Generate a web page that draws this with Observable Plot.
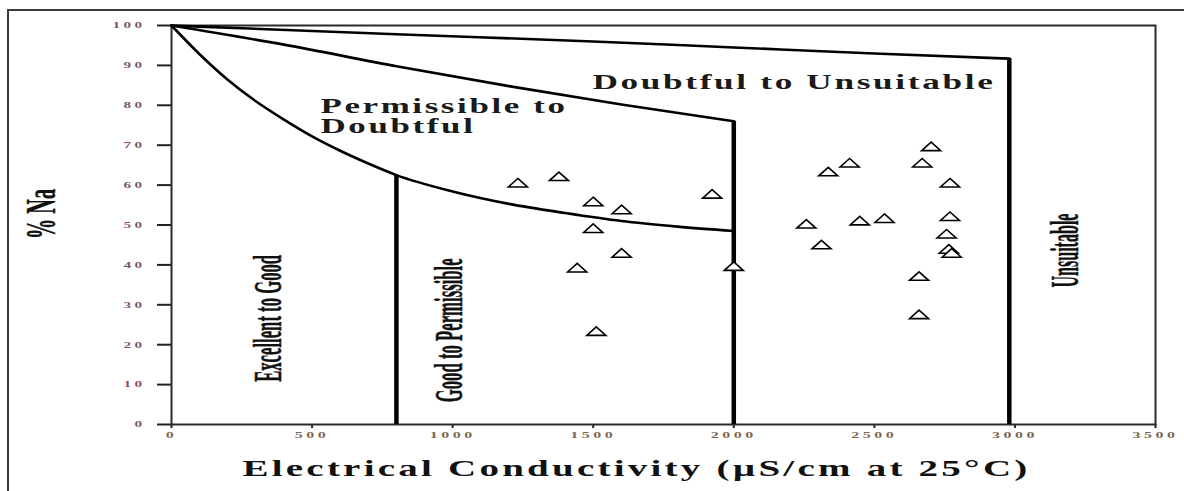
<!DOCTYPE html>
<html>
<head>
<meta charset="utf-8">
<script src="https://cdn.jsdelivr.net/npm/d3@7"></script>
<script src="https://cdn.jsdelivr.net/npm/@observablehq/plot@0.6"></script>
<style>
  html, body { margin: 0; padding: 0; background: #fff; }
  #chart { position: relative; width: 1184px; height: 491px; overflow: hidden; }
  #chart svg { position: absolute; left: 0; top: 0; }
  #edge { position: absolute; left: 7px; top: 9px; right: -10px; bottom: -10px;
          border-top: 2px solid #3a3a3a; border-left: 2px solid #3a3a3a; pointer-events: none; }
</style>
</head>
<body>
<div id="chart"><div id="edge"></div></div>
<script>
// Axis ticks
const xTicks = [0, 500, 1000, 1500, 2000, 2500, 3000, 3500];
const yTicks = [0, 10, 20, 30, 40, 50, 60, 70, 80, 90, 100];

// Water samples: electrical conductivity (µS/cm) and sodium percentage
const sampleEC = [1232, 1378, 1500, 1601, 1500, 1601, 1443, 1511, 1923, 2000,
                  2702, 2670, 2412, 2336, 2769, 2769, 2757, 2765, 2775, 2536,
                  2448, 2258, 2312, 2659, 2659];
const sampleNa = [60.6, 62.2, 55.9, 53.9, 49.2, 43.0, 39.3, 23.4, 57.8, 39.7,
                  69.7, 65.6, 65.6, 63.4, 60.6, 52.2, 47.8, 44.0, 43.0, 51.7,
                  51.1, 50.3, 45.1, 37.2, 27.6];

// Class boundary curves (Wilcox diagram)
const excellentEC = [0, 100, 200, 300, 400, 500, 600, 700, 800, 1000, 1200, 1400, 1600, 1800, 2000];
const excellentNa = [100, 92.8, 86.4, 81.0, 76.4, 72.2, 68.6, 65.4, 62.5, 58.4, 55.3, 53.0, 51.0, 49.6, 48.5];
const permissibleEC = [0, 400, 800, 1200, 1600, 2000];
const permissibleNa = [100, 95.2, 89.8, 84.8, 80.2, 76];
const doubtfulEC = [0, 800, 1500, 2000, 2500, 2980];
const doubtfulNa = [100, 97.8, 96, 94.5, 93, 91.7];

// Vertical class limits: EC and the %Na where each meets its curve
const limitEC = [800, 2000, 2980];
const limitNa = [62.5, 76, 91.7];

// Class names
const verticalZones = ["Excellent to Good", "Good to Permissible", "Unsuitable"];
const horizontalZones = ["Permissible to", "Doubtful", "Doubtful to Unsuitable"];

const xTitle = "Electrical Conductivity (µS/cm at 25°C)";
const yTitle = "% Na";

// --- build tables ---
const samples = sampleEC.map((ec, i) => ({ec, na: sampleNa[i]}));
const toPts = (ecs, nas) => ecs.map((ec, i) => ({ec, na: nas[i]}));
const curves = [toPts(excellentEC, excellentNa), toPts(permissibleEC, permissibleNa), toPts(doubtfulEC, doubtfulNa)];
const limits = toPts(limitEC, limitNa);

// label placement (EC, %Na) and drawn length
const vLabels = [
  {label: verticalZones[0], ec: 343, na: 26.6, len: 127},
  {label: verticalZones[1], ec: 989, na: 23.6, len: 144},
  {label: verticalZones[2], ec: 3180, na: 43.6, len: 74}
];
const leftLabels = [
  {label: horizontalZones[0], ec: 530, na: 79.7, len: 247},
  {label: horizontalZones[1], ec: 530, na: 74.7, len: 155}
];
const centerLabels = [
  {label: horizontalZones[2], ec: 2214, na: 85.7, len: 403}
];

// flattened open triangle marker
const flatTriangle = {
  draw(context, size) {
    const r = Math.sqrt(size / Math.PI);
    const w = 0.95 * r, h = 0.85 * r;
    context.moveTo(0, -h / 2);
    context.lineTo(w, h / 2);
    context.lineTo(-w, h / 2);
    context.closePath();
  }
};

const serif = "'Liberation Serif', 'DejaVu Serif', serif";

const svg = Plot.plot({
  width: 1184,
  height: 491,
  marginLeft: 171,
  marginRight: 29,
  marginTop: 25,
  marginBottom: 67,
  style: {background: "transparent", fontFamily: serif, overflow: "visible"},
  x: {domain: [0, 3500], axis: null},
  y: {domain: [0, 100], axis: null},
  marks: [
    Plot.axisX({ticks: xTicks, tickSize: 4, tickPadding: 3, fontSize: 9, fontWeight: "bold", label: null,
                tickFormat: d => String(d), stroke: "#222", strokeWidth: 2, fill: "#7a6650"}),
    Plot.axisY({ticks: yTicks, tickSize: 14, tickPadding: 12, fontSize: 9, fontWeight: "bold", label: null,
                tickFormat: d => String(d), stroke: "#222", strokeWidth: 2, fill: "#7c5470"}),
    Plot.frame({stroke: "#2a2a2a", strokeWidth: 2}),
    ...curves.map(c => Plot.line(c, {x: "ec", y: "na", stroke: "#000", strokeWidth: 2.6, curve: "monotone-x"})),
    Plot.ruleX(limits, {x: "ec", y1: 0, y2: "na", stroke: "#000", strokeWidth: 4.5}),
    Plot.dot(samples, {x: "ec", y: "na", r: 10, symbol: flatTriangle, fill: "white", stroke: "#000", strokeWidth: 1.6}),
    Plot.text(vLabels, {x: "ec", y: "na", text: "label", rotate: -90, fontSize: 40, fontWeight: "bold",
                        fill: "#111", stroke: "#111", strokeWidth: 0.5, textAnchor: "middle"}),
    Plot.text(leftLabels, {x: "ec", y: "na", text: "label", fontSize: 20, fontWeight: "bold",
                           fill: "#1a1a1a", textAnchor: "start"}),
    Plot.text(centerLabels, {x: "ec", y: "na", text: "label", fontSize: 20, fontWeight: "bold",
                             fill: "#1a1a1a", textAnchor: "middle"}),
    Plot.text([xTitle], {frameAnchor: "bottom", dx: -27, dy: 51, fontSize: 24, fontWeight: "bold", fill: "#111"}),
    Plot.text([yTitle], {frameAnchor: "left", dx: -130, dy: 14, rotate: -90, fontSize: 42, fontWeight: "bold",
                         fill: "#111", stroke: "#111", strokeWidth: 0.4})
  ]
});

// squeeze / stretch text runs to the drawn lengths
const fitText = (el, len, spacing) => {
  if (spacing) el.style.letterSpacing = spacing;
  el.setAttribute("textLength", len);
  el.setAttribute("lengthAdjust", "spacingAndGlyphs");
};
const lengthOf = new Map([...vLabels, ...leftLabels, ...centerLabels].map(d => [d.label, d.len]));
svg.querySelectorAll("text").forEach(el => {
  const t = el.textContent;
  const group = el.closest("g");
  const role = group ? group.getAttribute("aria-label") || "" : "";
  if (role.startsWith("y-axis tick label")) fitText(el, t.length * 11, "2px");
  else if (role.startsWith("x-axis tick label")) fitText(el, t.length * 11.5, "2px");
  else if (verticalZones.includes(t)) fitText(el, lengthOf.get(t));
  else if (horizontalZones.includes(t)) fitText(el, lengthOf.get(t), "1.5px");
  else if (t === xTitle) fitText(el, 788, "2px");
  else if (t === yTitle) fitText(el, 50);
});

document.getElementById("chart").appendChild(svg);
</script>
</body>
</html>
